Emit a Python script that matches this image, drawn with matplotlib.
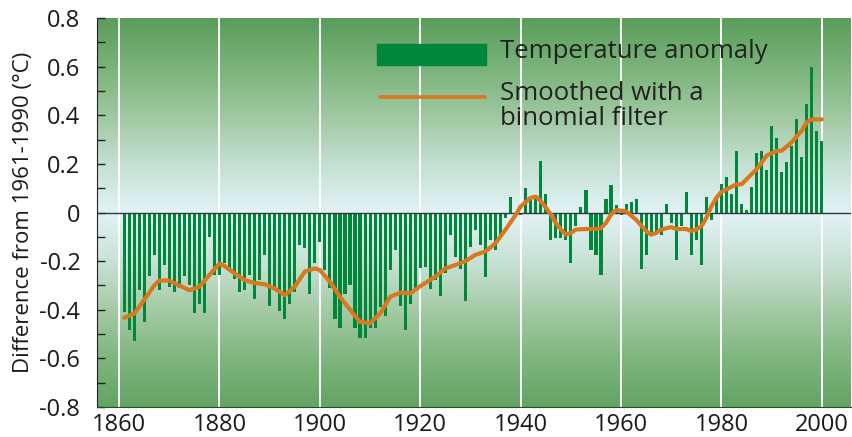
import numpy as np
import matplotlib
matplotlib.use("Agg")
import matplotlib.pyplot as plt
from matplotlib.colors import LinearSegmentedColormap
from matplotlib.patches import Rectangle
from matplotlib.lines import Line2D

plt.rcParams['font.family'] = ['Open Sans', 'DejaVu Sans']

# Annual global temperature anomaly, 1861-2000 (difference from 1961-1990, deg C)
years = np.arange(1861, 2001)
anomaly = [
    -0.41, -0.485, -0.53, -0.32, -0.45, -0.26, -0.175, -0.32, -0.215, -0.305,   # 1861-1870
    -0.325, -0.31, -0.26, -0.30, -0.415, -0.375, -0.415, -0.10, -0.257, -0.257,  # 1871-1880
    -0.206, -0.23, -0.275, -0.326, -0.317, -0.257, -0.357, -0.278, -0.174, -0.386,  # 1881-1890
    -0.317, -0.405, -0.437, -0.375, -0.326, -0.135, -0.147, -0.337, -0.206, -0.123,  # 1891-1900
    -0.237, -0.31, -0.437, -0.476, -0.336, -0.30, -0.476, -0.516, -0.516, -0.476,  # 1901-1910
    -0.476, -0.39, -0.427, -0.237, -0.156, -0.386, -0.485, -0.375, -0.31, -0.227,  # 1911-1920
    -0.223, -0.313, -0.278, -0.344, -0.25, -0.091, -0.184, -0.234, -0.364, -0.142,  # 1921-1930
    -0.073, -0.133, -0.264, -0.112, -0.154, -0.098, -0.023, 0.063, 0.0, -0.012,  # 1931-1940
    0.102, 0.057, 0.068, 0.213, 0.075, -0.112, -0.105, -0.105, -0.112, -0.206,  # 1941-1950
    -0.054, 0.024, 0.093, -0.154, -0.174, -0.257, 0.054, 0.113, 0.030, -0.01,  # 1951-1960
    0.033, 0.043, 0.054, -0.234, -0.174, -0.084, -0.084, -0.091, 0.033, -0.043,  # 1961-1970
    -0.195, -0.054, 0.084, -0.174, -0.112, -0.216, 0.065, -0.032, 0.068, 0.116,  # 1971-1980
    0.144, 0.075, 0.254, 0.033, 0.012, 0.105, 0.243, 0.254, 0.174, 0.355,  # 1981-1990
    0.306, 0.165, 0.206, 0.275, 0.386, 0.227, 0.445, 0.598, 0.337, 0.296,  # 1991-2000
]

# Smoothed curve (binomial filter)
smooth_years = [1861, 1863, 1865, 1867, 1868, 1870, 1872, 1874, 1876, 1878, 1880,
                1881, 1883, 1885, 1887, 1889, 1891, 1893, 1895, 1897, 1899, 1900,
                1902, 1904, 1906, 1908, 1910, 1912, 1914, 1916, 1918, 1920,
                1921, 1923, 1925, 1927, 1929, 1931, 1933, 1935, 1937, 1939, 1940,
                1942, 1943, 1944, 1945, 1946, 1947, 1948, 1949, 1950, 1951, 1953,
                1955, 1956, 1957, 1958, 1959, 1961, 1963, 1965, 1966, 1967, 1968,
                1970, 1971, 1973, 1974, 1975, 1976, 1977, 1978, 1979, 1980, 1981,
                1983, 1984, 1985, 1987, 1989, 1991, 1992, 1994, 1996, 1997, 1998, 2000]
smooth_vals = [-0.433, -0.416, -0.36, -0.30, -0.28, -0.28, -0.30, -0.32, -0.305, -0.257, -0.21,
               -0.22, -0.25, -0.278, -0.29, -0.295, -0.313, -0.34, -0.305, -0.243, -0.23, -0.237,
               -0.285, -0.347, -0.40, -0.45, -0.455, -0.416, -0.347, -0.33, -0.333, -0.303,
               -0.29, -0.264, -0.23, -0.216, -0.20, -0.174, -0.16, -0.126, -0.07, -0.01, 0.025,
               0.061, 0.065, 0.047, 0.02, -0.008, -0.043, -0.07, -0.091, -0.084, -0.07, -0.068,
               -0.068, -0.064, -0.043, -0.008, 0.01, 0.005, -0.03, -0.077, -0.091, -0.084, -0.07,
               -0.06, -0.068, -0.068, -0.077, -0.07, -0.056, -0.022, 0.026, 0.061, 0.085, 0.095,
               0.116, 0.116, 0.137, 0.178, 0.234, 0.254, 0.254, 0.289, 0.337, 0.372, 0.383, 0.383]

decades = list(range(1860, 2001, 20))
yticks = [-0.8, -0.6, -0.4, -0.2, 0, 0.2, 0.4, 0.6, 0.8]
ytick_labels = ['-0.8', '-0.6', '-0.4', '-0.2', '0', '0.2', '0.4', '0.6', '0.8']

bar_color = '#00873c'
line_color = '#d9781e'

fig = plt.figure(figsize=(8.53, 4.37), dpi=100)
ax = fig.add_axes([97 / 853, 1 - 407 / 437, 754 / 853, 389 / 437])

xmin, xmax = 1855.6, 2005.8
ax.set_xlim(xmin, xmax)
ax.set_ylim(-0.8, 0.8)

# background gradient: green at the edges, pale blue around zero
bg = LinearSegmentedColormap.from_list('bg', [
    (0.0, '#64a464'), (0.125, '#7fb67f'), (0.25, '#a5cba5'), (0.375, '#c9e2d6'),
    (0.5, '#e2f2f7'),
    (0.625, '#c4e0d2'), (0.75, '#9fc8a0'), (0.875, '#7ab37a'), (1.0, '#5b9d5b')])
grad = np.linspace(0, 1, 400).reshape(-1, 1)
ax.imshow(grad, cmap=bg, aspect='auto', origin='lower',
          extent=[xmin, xmax, -0.8, 0.8], zorder=0)

for d in decades:
    ax.axvline(d, color='white', lw=1.4, zorder=1)

ax.bar(years, anomaly, width=0.62, color=bar_color, zorder=2)
ax.axhline(0, color='#2b3b35', lw=1.0, zorder=2.5)
ax.plot(smooth_years, smooth_vals, color=line_color, lw=3.0, zorder=3,
        solid_capstyle='round', solid_joinstyle='round')

# axes styling
for s in ['top', 'right']:
    ax.spines[s].set_visible(False)
ax.spines['left'].set_color('#222222')
ax.spines['bottom'].set_color('#2a4a2a')
ax.set_xticks(decades)
ax.set_xticklabels([str(d) for d in decades])
ax.tick_params(axis='x', length=0, pad=4, labelsize=17, colors='#1a1a1a')
ax.set_yticks(yticks)
ax.set_yticklabels(ytick_labels)
ax.set_yticks(np.arange(-0.7, 0.8, 0.2), minor=True)
ax.tick_params(axis='y', which='both', direction='in', length=6, width=1,
               color='#222222', pad=12, labelsize=17, labelcolor='#1a1a1a')
ax.set_ylabel('Difference from 1961-1990 (°C)', fontsize=16, color='#1a1a1a')
ax.yaxis.set_label_coords(-0.083, 0.5)

# legend drawn by hand
ax.add_patch(Rectangle((0.3714, 0.8792), 0.1446, 0.054, transform=ax.transAxes,
                       color=bar_color, zorder=4))
ax.add_line(Line2D([0.3753, 0.5146], [0.797, 0.797], transform=ax.transAxes,
                   color=line_color, lw=2.6, solid_capstyle='round', zorder=4))
ax.text(0.5345, 0.9126, 'Temperature anomaly', transform=ax.transAxes,
        fontsize=18.5, va='center', ha='left', color='#222222', zorder=4)
ax.text(0.5345, 0.7738, 'Smoothed with a\nbinomial filter', transform=ax.transAxes,
        fontsize=18.5, va='center', ha='left', color='#222222', linespacing=1.05, zorder=4)

fig.savefig('out.png', dpi=100)
